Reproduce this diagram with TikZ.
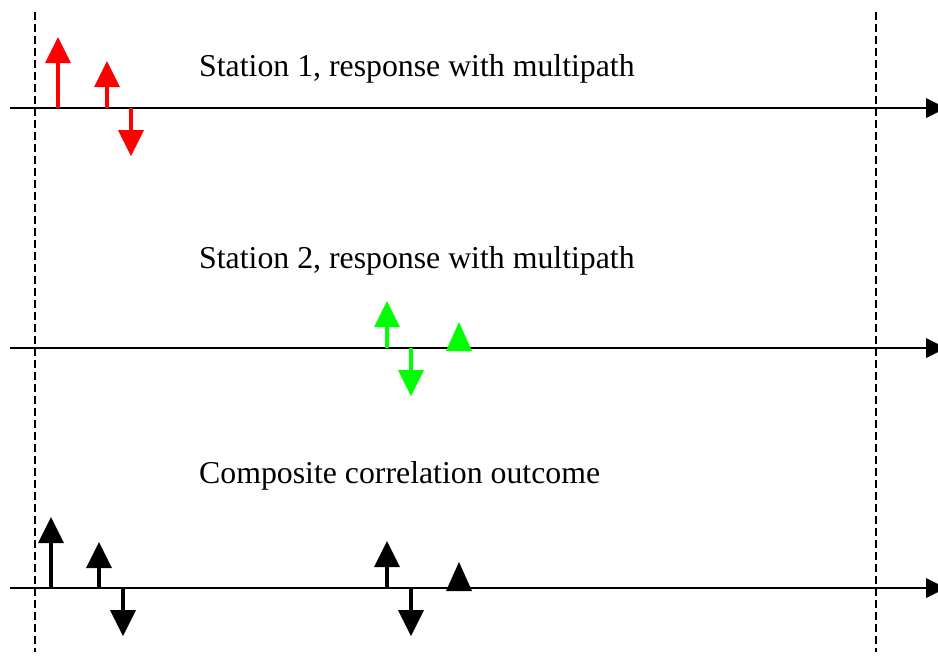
\documentclass[tikz,border=0pt]{standalone}
\usepackage{fontspec}
\setmainfont{Liberation Serif}
\begin{document}
\begin{tikzpicture}[x=1pt,y=-1pt,
  axis/.style={draw,line width=1.8pt},
  stem/.style={line width=3.6pt},
  guide/.style={draw,line width=1.6pt,dash pattern=on 8pt off 4pt},
  label/.style={anchor=base west,inner sep=0pt,font=\fontsize{31.8}{38}\selectfont}]
\useasboundingbox (0,0) rectangle (938,657);

% guide lines
\path[guide] (35,12) -- (35,652);
\path[guide] (876,12) -- (876,652);

% axes
\coordinate (s1start) at (10,108);
\coordinate (s1end) at (926,108);
\coordinate (s2start) at (10,348);
\coordinate (s2end) at (926,348);
\coordinate (cstart) at (10,588);
\coordinate (cend) at (926,588);
\path[axis] (s1start) -- (s1end);
\path[axis] (s2start) -- (s2end);
\path[axis] (cstart) -- (cend);
\fill (s1end) ++(0,-10) -- ++(0,20) -- ++(20,-10) -- cycle;
\fill (s2end) ++(0,-10) -- ++(0,20) -- ++(20,-10) -- cycle;
\fill (cend) ++(0,-10) -- ++(0,20) -- ++(20,-10) -- cycle;

% station 1
\draw[red,stem] (58,108) -- (58,62);
\fill[red] (45,63) -- (71,63) -- (58,37) -- cycle;
\draw[red,stem] (107,108) -- (107,86);
\fill[red] (94,87) -- (120,87) -- (107,61) -- cycle;
\draw[red,stem] (131,108) -- (131,131);
\fill[red] (118,130) -- (144,130) -- (131,156) -- cycle;

% station 2
\draw[green,stem] (387,348) -- (387,326);
\fill[green] (374,327) -- (400,327) -- (387,301) -- cycle;
\draw[green,stem] (411,348) -- (411,371);
\fill[green] (398,370) -- (424,370) -- (411,396) -- cycle;
\fill[green] (446,351) -- (472,351) -- (459,322) -- cycle;

% composite
\draw[black,stem] (51,588) -- (51,542);
\fill[black] (38,543) -- (64,543) -- (51,517) -- cycle;
\draw[black,stem] (99,588) -- (99,567);
\fill[black] (86,568) -- (112,568) -- (99,542) -- cycle;
\draw[black,stem] (123,588) -- (123,611);
\fill[black] (110,610) -- (136,610) -- (123,636) -- cycle;
\draw[black,stem] (387,588) -- (387,566);
\fill[black] (374,567) -- (400,567) -- (387,541) -- cycle;
\draw[black,stem] (411,588) -- (411,611);
\fill[black] (398,610) -- (424,610) -- (411,636) -- cycle;
\fill[black] (446,591) -- (472,591) -- (459,562) -- cycle;

\node[label] (s1label) at (199,76) {Station 1, response with multipath};
\node[label] (s2label) at (199,268) {Station 2, response with multipath};
\node[label] (clabel) at (199,483) {Composite correlation outcome};
\end{tikzpicture}
\end{document}
